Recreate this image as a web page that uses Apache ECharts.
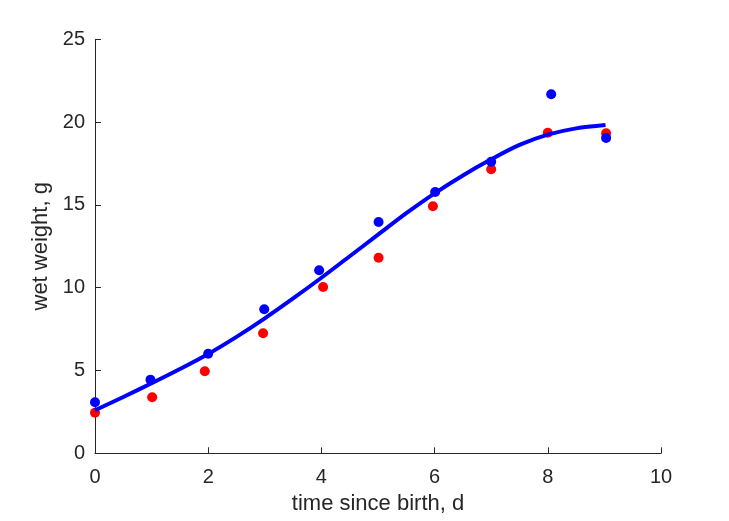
<!DOCTYPE html>
<html><head><meta charset="utf-8">
<script src="https://cdn.jsdelivr.net/npm/echarts@6/dist/echarts.min.js"></script>
<style>html,body{margin:0;padding:0;background:#fff}#c{width:729px;height:521px}</style>
</head><body><div id="c"></div>
<script>
const redX = [0, 1.01, 1.94, 2.97, 4.03, 5.01, 5.97, 7.0, 8.0, 9.03];
const redY = [2.45, 3.38, 4.95, 7.25, 10.04, 11.81, 14.92, 17.15, 19.36, 19.32];
const blueX = [0, 0.98, 2.0, 2.99, 3.96, 5.01, 6.01, 7.0, 8.06, 9.03];
const blueY = [3.08, 4.44, 6.01, 8.70, 11.05, 13.97, 15.78, 17.61, 21.68, 19.04];
const fitX = [0, 0.5, 1, 1.5, 2, 2.5, 3, 3.5, 4, 4.5, 5, 5.5, 6, 6.5, 7, 7.5, 8, 8.5, 9.02];
const fitY = [2.6, 3.4, 4.23, 5.09, 6.0, 7.03, 8.15, 9.35, 10.6, 11.9, 13.2, 14.5, 15.7, 16.78, 17.75, 18.62, 19.24, 19.62, 19.82];
const xTicks = [0, 2, 4, 6, 8, 10];
const yTicks = [0, 5, 10, 15, 20, 25];

const zip = (a, b) => a.map((v, i) => [v, b[i]]);
const txt = '#262626';
const font = 'Liberation Sans, Arial, sans-serif';
const chart = echarts.init(document.getElementById('c'));
chart.setOption({
  animation: false,
  grid: {left: 95, right: 68, top: 39.3, bottom: 67.7, containLabel: false},
  xAxis: {
    type: 'value', min: xTicks[0], max: xTicks[xTicks.length - 1], interval: 2,
    name: 'time since birth, d', nameLocation: 'middle', nameGap: 40,
    nameTextStyle: {color: txt, fontSize: 22, fontFamily: font},
    axisLine: {show: true, lineStyle: {color: txt, width: 1}},
    axisTick: {show: true, inside: true, length: 6, lineStyle: {color: txt}},
    axisLabel: {color: txt, fontSize: 20, fontFamily: font, margin: 14},
    splitLine: {show: false}
  },
  yAxis: {
    type: 'value', min: yTicks[0], max: yTicks[yTicks.length - 1], interval: 5,
    name: 'wet weight, g', nameLocation: 'middle', nameGap: 39,
    nameTextStyle: {color: txt, fontSize: 22, fontFamily: font},
    axisLine: {show: true, lineStyle: {color: txt, width: 1}},
    axisTick: {show: true, inside: true, length: 6, lineStyle: {color: txt}},
    axisLabel: {color: txt, fontSize: 20, fontFamily: font, margin: 10},
    splitLine: {show: false}
  },
  series: [
    {type: 'scatter', data: zip(redX, redY), symbolSize: 10, itemStyle: {color: '#ff0000', opacity: 1}, z: 2},
    {type: 'line', data: zip(fitX, fitY), smooth: 0.3, showSymbol: false, symbol: 'none',
     lineStyle: {color: '#0000ff', width: 4}, z: 3},
    {type: 'scatter', data: zip(blueX, blueY), symbolSize: 10, itemStyle: {color: '#0000ff', opacity: 1}, z: 4}
  ]
});
</script></body></html>
